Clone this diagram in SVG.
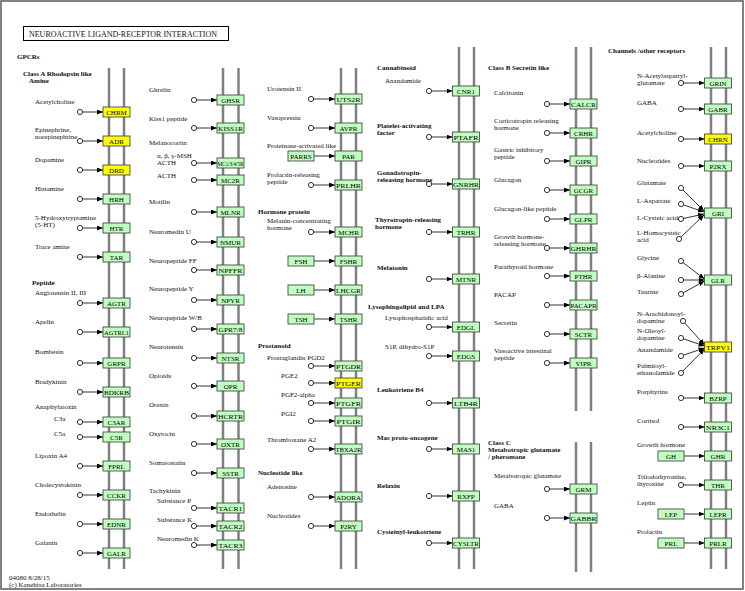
<svg xmlns="http://www.w3.org/2000/svg" width="745" height="591" viewBox="0 0 745 591">
<defs>
<marker id="a" viewBox="0 0 6 5" refX="6" refY="2.5" markerWidth="6" markerHeight="5" markerUnits="userSpaceOnUse" orient="auto"><path d="M0,0 L6,2.5 L0,5 z" fill="#000"/></marker>
</defs>
<style>
text{font-family:"Liberation Serif","DejaVu Serif",serif;font-size:7px;fill:#111}
.b{font-weight:bold}
.m{stroke:#808080;stroke-width:2.5}
.g rect{fill:#bfffbf;stroke:#4a4a4a;stroke-width:0.9}
.y rect{fill:#ffff00;stroke:#4a4a4a;stroke-width:0.9}
.g text,.y text{text-anchor:middle;fill:#000}
.c circle{fill:#fff;stroke:#000;stroke-width:0.8}
#edges line{stroke:#000;stroke-width:0.8;marker-end:url(#a)}
</style>
<rect x="1" y="1" width="742" height="588" fill="#fff" stroke="#5a5a5a" stroke-width="1.5"/>
<g id="title"><rect x="23.5" y="26.5" width="205" height="14" fill="#fff" stroke="#000" stroke-width="1"/>
<text x="29" y="37" style="font-size:9px" textLength="188" lengthAdjust="spacingAndGlyphs">NEUROACTIVE LIGAND-RECEPTOR INTERACTION</text></g>
<g id="membranes">
<line class="m" x1="109" y1="68" x2="109" y2="569"/><line class="m" x1="124" y1="68" x2="124" y2="569"/>
<line class="m" x1="223" y1="68" x2="223" y2="569"/><line class="m" x1="238.5" y1="68" x2="238.5" y2="569"/>
<line class="m" x1="341" y1="68" x2="341" y2="569"/><line class="m" x1="356" y1="68" x2="356" y2="569"/>
<line class="m" x1="459" y1="47" x2="459" y2="569"/><line class="m" x1="474" y1="47" x2="474" y2="569"/>
<line class="m" x1="576" y1="47" x2="576" y2="411"/><line class="m" x1="591" y1="47" x2="591" y2="411"/>
<line class="m" x1="576" y1="442" x2="576" y2="572"/><line class="m" x1="591" y1="442" x2="591" y2="572"/>
<line class="m" x1="711" y1="47" x2="711" y2="569"/><line class="m" x1="726" y1="47" x2="726" y2="569"/>
</g>
<g id="edges">
<line x1="80" y1="112" x2="103" y2="112"/><line x1="80" y1="141" x2="103" y2="141"/><line x1="80" y1="170" x2="103" y2="170"/><line x1="80" y1="199" x2="103" y2="199"/><line x1="80" y1="228" x2="103" y2="228"/><line x1="80" y1="257" x2="103" y2="257"/><line x1="80" y1="303" x2="103" y2="303"/><line x1="80" y1="332" x2="103" y2="332"/><line x1="80" y1="363" x2="103" y2="363"/><line x1="80" y1="392" x2="103" y2="392"/><line x1="80" y1="422" x2="103" y2="422"/><line x1="80" y1="437" x2="103" y2="437"/><line x1="80" y1="466" x2="103" y2="466"/><line x1="80" y1="495" x2="103" y2="495"/><line x1="80" y1="524" x2="103" y2="524"/><line x1="80" y1="553" x2="103" y2="553"/>
<line x1="194" y1="100" x2="217" y2="100"/><line x1="194" y1="128" x2="217" y2="128"/><line x1="194" y1="163" x2="217" y2="163"/><line x1="194" y1="180" x2="217" y2="180"/><line x1="194" y1="212" x2="217" y2="212"/><line x1="194" y1="242" x2="217" y2="242"/><line x1="194" y1="270" x2="217" y2="270"/><line x1="194" y1="300" x2="217" y2="300"/><line x1="194" y1="329" x2="217" y2="329"/><line x1="194" y1="358" x2="217" y2="358"/><line x1="194" y1="386" x2="217" y2="386"/><line x1="194" y1="416" x2="217" y2="416"/><line x1="194" y1="444" x2="217" y2="444"/><line x1="194" y1="473" x2="217" y2="473"/><line x1="194" y1="508" x2="217" y2="508"/><line x1="194" y1="526" x2="217" y2="526"/><line x1="194" y1="545" x2="217" y2="545"/>
<line x1="311" y1="99" x2="335" y2="99"/><line x1="311" y1="128" x2="335" y2="128"/><line x1="314" y1="156" x2="335" y2="156"/><line x1="311" y1="185" x2="335" y2="185"/><line x1="311" y1="232" x2="335" y2="232"/><line x1="314" y1="261" x2="335" y2="261"/><line x1="314" y1="290" x2="335" y2="290"/><line x1="314" y1="319" x2="335" y2="319"/><line x1="311" y1="366" x2="335" y2="366"/><line x1="311" y1="383" x2="335" y2="383"/><line x1="311" y1="403" x2="335" y2="403"/><line x1="311" y1="421" x2="335" y2="421"/><line x1="311" y1="449" x2="335" y2="449"/><line x1="311" y1="497" x2="335" y2="497"/><line x1="311" y1="526" x2="335" y2="526"/>
<line x1="429" y1="91" x2="452.5" y2="91"/><line x1="429" y1="137" x2="452.5" y2="137"/><line x1="429" y1="184" x2="452.5" y2="184"/><line x1="429" y1="232" x2="452.5" y2="232"/><line x1="429" y1="279" x2="452.5" y2="279"/><line x1="429" y1="327" x2="452.5" y2="327"/><line x1="429" y1="356" x2="452.5" y2="356"/><line x1="429" y1="403" x2="452.5" y2="403"/><line x1="429" y1="449" x2="452.5" y2="449"/><line x1="429" y1="496" x2="452.5" y2="496"/><line x1="429" y1="543" x2="452.5" y2="543"/>
<line x1="547" y1="104" x2="570" y2="104"/><line x1="547" y1="133" x2="570" y2="133"/><line x1="547" y1="161" x2="570" y2="161"/><line x1="547" y1="190" x2="570" y2="190"/><line x1="547" y1="219" x2="570" y2="219"/><line x1="547" y1="248" x2="570" y2="248"/><line x1="547" y1="276" x2="570" y2="276"/><line x1="547" y1="305" x2="570" y2="305"/><line x1="547" y1="334" x2="570" y2="334"/><line x1="547" y1="363" x2="570" y2="363"/><line x1="547" y1="489" x2="570" y2="489"/><line x1="547" y1="518" x2="570" y2="518"/>
<line x1="681" y1="83" x2="704.5" y2="83"/><line x1="681" y1="109" x2="704.5" y2="109"/><line x1="681" y1="139" x2="704.5" y2="139"/><line x1="681" y1="166" x2="704.5" y2="166"/>
<line x1="681" y1="188" x2="704" y2="211"/><line x1="681" y1="204" x2="704" y2="212"/><line x1="681" y1="219" x2="704" y2="214"/><line x1="679" y1="239" x2="704" y2="215"/>
<line x1="681" y1="261" x2="704.5" y2="279"/><line x1="681" y1="280" x2="704.5" y2="280"/><line x1="681" y1="294" x2="704.5" y2="281"/>
<line x1="683" y1="321" x2="704.5" y2="345"/><line x1="681" y1="338" x2="704.5" y2="346"/><line x1="681" y1="356" x2="704.5" y2="348"/><line x1="681" y1="373" x2="704.5" y2="349"/>
<line x1="681" y1="398" x2="704.5" y2="398"/><line x1="681" y1="427" x2="704.5" y2="427"/><line x1="684" y1="456" x2="704.5" y2="456"/><line x1="681" y1="485" x2="704.5" y2="485"/><line x1="684" y1="514" x2="704.5" y2="514"/><line x1="684" y1="543" x2="704.5" y2="543"/>
</g>
<g id="compounds" class="c">
<g id="c1"><circle cx="80" cy="112" r="2.6"/><circle cx="80" cy="141" r="2.6"/><circle cx="80" cy="170" r="2.6"/><circle cx="80" cy="199" r="2.6"/><circle cx="80" cy="228" r="2.6"/><circle cx="80" cy="257" r="2.6"/><circle cx="80" cy="303" r="2.6"/><circle cx="80" cy="332" r="2.6"/><circle cx="80" cy="363" r="2.6"/><circle cx="80" cy="392" r="2.6"/><circle cx="80" cy="422" r="2.6"/><circle cx="80" cy="437" r="2.6"/><circle cx="80" cy="466" r="2.6"/><circle cx="80" cy="495" r="2.6"/><circle cx="80" cy="524" r="2.6"/><circle cx="80" cy="553" r="2.6"/></g>
<g id="c2"><circle cx="194" cy="100" r="2.6"/><circle cx="194" cy="128" r="2.6"/><circle cx="194" cy="163" r="2.6"/><circle cx="194" cy="180" r="2.6"/><circle cx="194" cy="212" r="2.6"/><circle cx="194" cy="242" r="2.6"/><circle cx="194" cy="270" r="2.6"/><circle cx="194" cy="300" r="2.6"/><circle cx="194" cy="329" r="2.6"/><circle cx="194" cy="358" r="2.6"/><circle cx="194" cy="386" r="2.6"/><circle cx="194" cy="416" r="2.6"/><circle cx="194" cy="444" r="2.6"/><circle cx="194" cy="473" r="2.6"/><circle cx="194" cy="508" r="2.6"/><circle cx="194" cy="526" r="2.6"/><circle cx="194" cy="545" r="2.6"/></g>
<g id="c3"><circle cx="311" cy="99" r="2.6"/><circle cx="311" cy="128" r="2.6"/><circle cx="311" cy="185" r="2.6"/><circle cx="311" cy="232" r="2.6"/><circle cx="311" cy="366" r="2.6"/><circle cx="311" cy="383" r="2.6"/><circle cx="311" cy="403" r="2.6"/><circle cx="311" cy="421" r="2.6"/><circle cx="311" cy="449" r="2.6"/><circle cx="311" cy="497" r="2.6"/><circle cx="311" cy="526" r="2.6"/></g>
<g id="c4"><circle cx="429" cy="91" r="2.6"/><circle cx="429" cy="137" r="2.6"/><circle cx="429" cy="184" r="2.6"/><circle cx="429" cy="232" r="2.6"/><circle cx="429" cy="279" r="2.6"/><circle cx="429" cy="327" r="2.6"/><circle cx="429" cy="356" r="2.6"/><circle cx="429" cy="403" r="2.6"/><circle cx="429" cy="449" r="2.6"/><circle cx="429" cy="496" r="2.6"/><circle cx="429" cy="543" r="2.6"/></g>
<g id="c5"><circle cx="547" cy="104" r="2.6"/><circle cx="547" cy="133" r="2.6"/><circle cx="547" cy="161" r="2.6"/><circle cx="547" cy="190" r="2.6"/><circle cx="547" cy="219" r="2.6"/><circle cx="547" cy="248" r="2.6"/><circle cx="547" cy="276" r="2.6"/><circle cx="547" cy="305" r="2.6"/><circle cx="547" cy="334" r="2.6"/><circle cx="547" cy="363" r="2.6"/><circle cx="547" cy="489" r="2.6"/><circle cx="547" cy="518" r="2.6"/></g>
<g id="c6"><circle cx="681" cy="83" r="2.6"/><circle cx="681" cy="109" r="2.6"/><circle cx="681" cy="139" r="2.6"/><circle cx="681" cy="166" r="2.6"/><circle cx="681" cy="188" r="2.6"/><circle cx="681" cy="204" r="2.6"/><circle cx="681" cy="219" r="2.6"/><circle cx="679" cy="239" r="2.6"/><circle cx="681" cy="261" r="2.6"/><circle cx="681" cy="280" r="2.6"/><circle cx="681" cy="294" r="2.6"/><circle cx="683" cy="321" r="2.6"/><circle cx="681" cy="338" r="2.6"/><circle cx="681" cy="356" r="2.6"/><circle cx="681" cy="373" r="2.6"/><circle cx="681" cy="398" r="2.6"/><circle cx="681" cy="427" r="2.6"/><circle cx="681" cy="485" r="2.6"/></g>
</g>
<g id="receptors">
<g id="CHRM" class="y"><rect x="103" y="107" width="27" height="10"/><text x="116.5" y="114.5">CHRM</text></g>
<g id="ADR" class="y"><rect x="103" y="136" width="27" height="10"/><text x="116.5" y="143.5">ADR</text></g>
<g id="DRD" class="y"><rect x="103" y="165" width="27" height="10"/><text x="116.5" y="172.5">DRD</text></g>
<g id="HRH" class="g"><rect x="103" y="194" width="27" height="10"/><text x="116.5" y="201.5">HRH</text></g>
<g id="HTR" class="g"><rect x="103" y="223" width="27" height="10"/><text x="116.5" y="230.5">HTR</text></g>
<g id="TAR" class="g"><rect x="103" y="252" width="27" height="10"/><text x="116.5" y="259.5">TAR</text></g>
<g id="AGTR" class="g"><rect x="103" y="298" width="27" height="10"/><text x="116.5" y="305.5">AGTR</text></g>
<g id="AGTRL1" class="g"><rect x="103" y="327" width="27" height="10"/><text x="116.5" y="334.5" textLength="25" lengthAdjust="spacingAndGlyphs">AGTRL1</text></g>
<g id="GRPR" class="g"><rect x="103" y="358" width="27" height="10"/><text x="116.5" y="365.5">GRPR</text></g>
<g id="BDKRB" class="g"><rect x="103" y="387" width="27" height="10"/><text x="116.5" y="394.5" textLength="25" lengthAdjust="spacingAndGlyphs">BDKRB</text></g>
<g id="C3AR" class="g"><rect x="103" y="417" width="27" height="10"/><text x="116.5" y="424.5">C3AR</text></g>
<g id="C5R" class="g"><rect x="103" y="432" width="27" height="10"/><text x="116.5" y="439.5">C5R</text></g>
<g id="FPRL" class="g"><rect x="103" y="461" width="27" height="10"/><text x="116.5" y="468.5">FPRL</text></g>
<g id="CCKR" class="g"><rect x="103" y="490" width="27" height="10"/><text x="116.5" y="497.5">CCKR</text></g>
<g id="EDNR" class="g"><rect x="103" y="519" width="27" height="10"/><text x="116.5" y="526.5">EDNR</text></g>
<g id="GALR" class="g"><rect x="103" y="548" width="27" height="10"/><text x="116.5" y="555.5">GALR</text></g>

<g id="GHSR" class="g"><rect x="217" y="95" width="27" height="10"/><text x="230.5" y="102.5">GHSR</text></g>
<g id="KISS1R" class="g"><rect x="217" y="123" width="27" height="10"/><text x="230.5" y="130.5" textLength="25" lengthAdjust="spacingAndGlyphs">KISS1R</text></g>
<g id="MC1345R" class="g"><rect x="217" y="158" width="27" height="10"/><text x="230.5" y="165.5" textLength="26" lengthAdjust="spacingAndGlyphs">MC1/3/4/5R</text></g>
<g id="MC2R" class="g"><rect x="217" y="175" width="27" height="10"/><text x="230.5" y="182.5">MC2R</text></g>
<g id="MLNR" class="g"><rect x="217" y="207" width="27" height="10"/><text x="230.5" y="214.5">MLNR</text></g>
<g id="NMUR" class="g"><rect x="217" y="237" width="27" height="10"/><text x="230.5" y="244.5">NMUR</text></g>
<g id="NPFFR" class="g"><rect x="217" y="265" width="27" height="10"/><text x="230.5" y="272.5" textLength="24" lengthAdjust="spacingAndGlyphs">NPFFR</text></g>
<g id="NPYR" class="g"><rect x="217" y="295" width="27" height="10"/><text x="230.5" y="302.5">NPYR</text></g>
<g id="GPR7_8" class="g"><rect x="217" y="324" width="27" height="10"/><text x="230.5" y="331.5" textLength="24" lengthAdjust="spacingAndGlyphs">GPR7/8</text></g>
<g id="NTSR" class="g"><rect x="217" y="353" width="27" height="10"/><text x="230.5" y="360.5">NTSR</text></g>
<g id="OPR" class="g"><rect x="217" y="381" width="27" height="10"/><text x="230.5" y="388.5">OPR</text></g>
<g id="HCRTR" class="g"><rect x="217" y="411" width="27" height="10"/><text x="230.5" y="418.5" textLength="25" lengthAdjust="spacingAndGlyphs">HCRTR</text></g>
<g id="OXTR" class="g"><rect x="217" y="439" width="27" height="10"/><text x="230.5" y="446.5">OXTR</text></g>
<g id="SSTR" class="g"><rect x="217" y="468" width="27" height="10"/><text x="230.5" y="475.5">SSTR</text></g>
<g id="TACR1" class="g"><rect x="217" y="503" width="27" height="10"/><text x="230.5" y="510.5" textLength="24" lengthAdjust="spacingAndGlyphs">TACR1</text></g>
<g id="TACR2" class="g"><rect x="217" y="521" width="27" height="10"/><text x="230.5" y="528.5" textLength="24" lengthAdjust="spacingAndGlyphs">TACR2</text></g>
<g id="TACR3" class="g"><rect x="217" y="540" width="27" height="10"/><text x="230.5" y="547.5" textLength="24" lengthAdjust="spacingAndGlyphs">TACR3</text></g>

<g id="UTS2R" class="g"><rect x="335" y="94" width="27" height="10"/><text x="348.5" y="101.5" textLength="24" lengthAdjust="spacingAndGlyphs">UTS2R</text></g>
<g id="AVPR" class="g"><rect x="335" y="123" width="27" height="10"/><text x="348.5" y="130.5">AVPR</text></g>
<g id="PAR" class="g"><rect x="335" y="151" width="27" height="10"/><text x="348.5" y="158.5">PAR</text></g>
<g id="PRLHR" class="g"><rect x="335" y="180" width="27" height="10"/><text x="348.5" y="187.5" textLength="25" lengthAdjust="spacingAndGlyphs">PRLHR</text></g>
<g id="MCHR" class="g"><rect x="335" y="227" width="27" height="10"/><text x="348.5" y="234.5">MCHR</text></g>
<g id="FSHR" class="g"><rect x="335" y="256" width="27" height="10"/><text x="348.5" y="263.5">FSHR</text></g>
<g id="LHCGR" class="g"><rect x="335" y="285" width="27" height="10"/><text x="348.5" y="292.5" textLength="25" lengthAdjust="spacingAndGlyphs">LHCGR</text></g>
<g id="TSHR" class="g"><rect x="335" y="314" width="27" height="10"/><text x="348.5" y="321.5">TSHR</text></g>
<g id="PTGDR" class="g"><rect x="335" y="361" width="27" height="10"/><text x="348.5" y="368.5" textLength="25" lengthAdjust="spacingAndGlyphs">PTGDR</text></g>
<g id="PTGER" class="y"><rect x="335" y="378" width="27" height="10"/><text x="348.5" y="385.5" textLength="25" lengthAdjust="spacingAndGlyphs">PTGER</text></g>
<g id="PTGFR" class="g"><rect x="335" y="398" width="27" height="10"/><text x="348.5" y="405.5" textLength="25" lengthAdjust="spacingAndGlyphs">PTGFR</text></g>
<g id="PTGIR" class="g"><rect x="335" y="416" width="27" height="10"/><text x="348.5" y="423.5" textLength="24" lengthAdjust="spacingAndGlyphs">PTGIR</text></g>
<g id="TBXA2R" class="g"><rect x="335" y="444" width="27" height="10"/><text x="348.5" y="451.5" textLength="26" lengthAdjust="spacingAndGlyphs">TBXA2R</text></g>
<g id="ADORA" class="g"><rect x="335" y="492" width="27" height="10"/><text x="348.5" y="499.5" textLength="25" lengthAdjust="spacingAndGlyphs">ADORA</text></g>
<g id="P2RY" class="g"><rect x="335" y="521" width="27" height="10"/><text x="348.5" y="528.5">P2RY</text></g>

<g id="CNR1" class="g"><rect x="452.5" y="86" width="27" height="10"/><text x="466" y="93.5">CNR1</text></g>
<g id="PTAFR" class="g"><rect x="452.5" y="132" width="27" height="10"/><text x="466" y="139.5" textLength="25" lengthAdjust="spacingAndGlyphs">PTAFR</text></g>
<g id="GNRHR" class="g"><rect x="452.5" y="179" width="27" height="10"/><text x="466" y="186.5" textLength="26" lengthAdjust="spacingAndGlyphs">GNRHR</text></g>
<g id="TRHR" class="g"><rect x="452.5" y="227" width="27" height="10"/><text x="466" y="234.5">TRHR</text></g>
<g id="MTNR" class="g"><rect x="452.5" y="274" width="27" height="10"/><text x="466" y="281.5">MTNR</text></g>
<g id="EDGL" class="g"><rect x="452.5" y="322" width="27" height="10"/><text x="466" y="329.5">EDGL</text></g>
<g id="EDGS" class="g"><rect x="452.5" y="351" width="27" height="10"/><text x="466" y="358.5">EDGS</text></g>
<g id="LTB4R" class="g"><rect x="452.5" y="398" width="27" height="10"/><text x="466" y="405.5" textLength="24" lengthAdjust="spacingAndGlyphs">LTB4R</text></g>
<g id="MAS1" class="g"><rect x="452.5" y="444" width="27" height="10"/><text x="466" y="451.5">MAS1</text></g>
<g id="RXFP" class="g"><rect x="452.5" y="491" width="27" height="10"/><text x="466" y="498.5">RXFP</text></g>
<g id="CYSLTR" class="g"><rect x="452.5" y="538" width="27" height="10"/><text x="466" y="545.5" textLength="26" lengthAdjust="spacingAndGlyphs">CYSLTR</text></g>

<g id="CALCR" class="g"><rect x="570" y="99" width="27" height="10"/><text x="583.5" y="106.5" textLength="25" lengthAdjust="spacingAndGlyphs">CALCR</text></g>
<g id="CRHR" class="g"><rect x="570" y="128" width="27" height="10"/><text x="583.5" y="135.5">CRHR</text></g>
<g id="GIPR" class="g"><rect x="570" y="156" width="27" height="10"/><text x="583.5" y="163.5">GIPR</text></g>
<g id="GCGR" class="g"><rect x="570" y="185" width="27" height="10"/><text x="583.5" y="192.5">GCGR</text></g>
<g id="GLPR" class="g"><rect x="570" y="214" width="27" height="10"/><text x="583.5" y="221.5">GLPR</text></g>
<g id="GHRHR" class="g"><rect x="570" y="243" width="27" height="10"/><text x="583.5" y="250.5" textLength="26" lengthAdjust="spacingAndGlyphs">GHRHR</text></g>
<g id="PTHR" class="g"><rect x="570" y="271" width="27" height="10"/><text x="583.5" y="278.5">PTHR</text></g>
<g id="PACAPR" class="g"><rect x="570" y="300" width="27" height="10"/><text x="583.5" y="307.5" textLength="26" lengthAdjust="spacingAndGlyphs">PACAPR</text></g>
<g id="SCTR" class="g"><rect x="570" y="329" width="27" height="10"/><text x="583.5" y="336.5">SCTR</text></g>
<g id="VIPR" class="g"><rect x="570" y="358" width="27" height="10"/><text x="583.5" y="365.5">VIPR</text></g>
<g id="GRM" class="g"><rect x="570" y="484" width="27" height="10"/><text x="583.5" y="491.5">GRM</text></g>
<g id="GABBR" class="g"><rect x="570" y="513" width="27" height="10"/><text x="583.5" y="520.5" textLength="26" lengthAdjust="spacingAndGlyphs">GABBR</text></g>

<g id="GRIN" class="g"><rect x="704.5" y="78" width="27" height="10"/><text x="718" y="85.5">GRIN</text></g>
<g id="GABR" class="g"><rect x="704.5" y="104" width="27" height="10"/><text x="718" y="111.5">GABR</text></g>
<g id="CHRN" class="y"><rect x="704.5" y="134" width="27" height="10"/><text x="718" y="141.5">CHRN</text></g>
<g id="P2RX" class="g"><rect x="704.5" y="161" width="27" height="10"/><text x="718" y="168.5">P2RX</text></g>
<g id="GRI" class="g"><rect x="704.5" y="208" width="27" height="10"/><text x="718" y="215.5">GRI</text></g>
<g id="GLR" class="g"><rect x="704.5" y="275" width="27" height="10"/><text x="718" y="282.5">GLR</text></g>
<g id="TRPV1" class="y"><rect x="704.5" y="342" width="27" height="10"/><text x="718" y="349.5" textLength="24" lengthAdjust="spacingAndGlyphs">TRPV1</text></g>
<g id="BZRP" class="g"><rect x="704.5" y="393" width="27" height="10"/><text x="718" y="400.5">BZRP</text></g>
<g id="NR3C1" class="g"><rect x="704.5" y="422" width="27" height="10"/><text x="718" y="429.5" textLength="24" lengthAdjust="spacingAndGlyphs">NR3C1</text></g>
<g id="GHR" class="g"><rect x="704.5" y="451" width="27" height="10"/><text x="718" y="458.5">GHR</text></g>
<g id="THR" class="g"><rect x="704.5" y="480" width="27" height="10"/><text x="718" y="487.5">THR</text></g>
<g id="LEPR" class="g"><rect x="704.5" y="509" width="27" height="10"/><text x="718" y="516.5">LEPR</text></g>
<g id="PRLR" class="g"><rect x="704.5" y="538" width="27" height="10"/><text x="718" y="545.5">PRLR</text></g>
</g>
<g id="ligands">
<g id="PRSS" class="g"><rect x="288" y="151" width="26" height="10"/><text x="301" y="158.5">PARRS</text></g>
<g id="FSH" class="g"><rect x="288" y="256" width="26" height="10"/><text x="301" y="263.5">FSH</text></g>
<g id="LH" class="g"><rect x="288" y="285" width="26" height="10"/><text x="301" y="292.5">LH</text></g>
<g id="TSH" class="g"><rect x="288" y="314" width="26" height="10"/><text x="301" y="321.5">TSH</text></g>
<g id="GH" class="g"><rect x="658" y="451" width="26" height="10"/><text x="671" y="458.5">GH</text></g>
<g id="LEP" class="g"><rect x="658" y="509" width="26" height="10"/><text x="671" y="516.5">LEP</text></g>
<g id="PRL" class="g"><rect x="658" y="538" width="26" height="10"/><text x="671" y="545.5">PRL</text></g>
</g>
<g id="labels">
<text class="b" x="17" y="58.5">GPCRs</text>
<text class="b" x="23" y="75.5">Class A Rhodopsin like</text>
<text class="b" x="29" y="82.5">Amine</text>
<text x="35" y="104">Acetylcholine</text>
<text x="35" y="132">Epinephrine,</text><text x="35" y="139">norepinephrine</text>
<text x="35" y="161.5">Dopamine</text>
<text x="35" y="190.5">Histamine</text>
<text x="35" y="219.5">5-Hydroxytryptamine</text><text x="35" y="226.5">(5-HT)</text>
<text x="35" y="248.5">Trace amine</text>
<text class="b" x="32" y="285">Peptide</text>
<text x="35" y="295">Angiotensin II, III</text>
<text x="35" y="324">Apelin</text>
<text x="35" y="354">Bombesin</text>
<text x="35" y="383.5">Bradykinin</text>
<text x="35" y="408.5">Anaphylatoxin</text>
<text x="54" y="421">C3a</text>
<text x="54" y="436">C5a</text>
<text x="35" y="458">Lipoxin A4</text>
<text x="35" y="486.5">Cholecystokinin</text>
<text x="35" y="516">Endothelin</text>
<text x="35" y="544.5">Galanin</text>

<text x="149" y="92">Ghrelin</text>
<text x="149" y="121">Kiss1 peptide</text>
<text x="149" y="145">Melanocortin</text>
<text x="157" y="157.5">α, β, γ-MSH</text><text x="157" y="165">ACTH</text>
<text x="157" y="178">ACTH</text>
<text x="149" y="204">Motilin</text>
<text x="149" y="233.5">Neuromedin U</text>
<text x="149" y="262.5">Neuropeptide FF</text>
<text x="149" y="291">Neuropeptide Y</text>
<text x="149" y="320">Neuropeptide W/B</text>
<text x="149" y="349">Neurotensin</text>
<text x="149" y="378">Opioids</text>
<text x="149" y="407">Orexin</text>
<text x="149" y="436">Oxytocin</text>
<text x="149" y="465">Somatostatin</text>
<text x="149" y="492.5">Tachykinin</text>
<text x="157" y="503">Substance P</text>
<text x="157" y="522">Substance K</text>
<text x="157" y="541">Neuromedin K</text>

<text x="267" y="91">Urotensin II</text>
<text x="267" y="120">Vasopressin</text>
<text x="267" y="148">Proteinase-activated like</text>
<text x="267" y="176.5">Prolactin-releasing</text><text x="267" y="183.5">peptide</text>
<text class="b" x="258" y="214">Hormone protein</text>
<text x="267" y="223">Melanin-concentrating</text><text x="267" y="230">hormone</text>
<text class="b" x="258" y="347.5">Prostanoid</text>
<text x="267" y="360">Prostaglandin PGD2</text>
<text x="281" y="378">PGE2</text>
<text x="281" y="396.5">PGF2-alpha</text>
<text x="281" y="416">PGI2</text>
<text x="267" y="441.5">Thromboxane A2</text>
<text class="b" x="258" y="475">Nucleotide like</text>
<text x="267" y="489">Adenosine</text>
<text x="267" y="517.5">Nucleotides</text>

<text class="b" x="377" y="70">Cannabinoid</text>
<text x="385" y="82.5">Anandamide</text>
<text class="b" x="377" y="128">Platelet-activating</text><text class="b" x="377" y="135">factor</text>
<text class="b" x="377" y="174.5">Gonadotropin-</text><text class="b" x="377" y="181.5">releasing hormone</text>
<text class="b" x="375" y="222">Thyrotropin-releasing</text><text class="b" x="375" y="229">hormone</text>
<text class="b" x="377" y="270">Melatonin</text>
<text class="b" x="368" y="309">Lysophingolipid and LPA</text>
<text x="385" y="320">Lysophosphatidic acid</text>
<text x="385" y="349">S1P, dihydro-S1P</text>
<text class="b" x="377" y="391.5">Leukotriene B4</text>
<text class="b" x="377" y="440">Mas proto-oncogene</text>
<text class="b" x="377" y="487.5">Relaxin</text>
<text class="b" x="377" y="533.5">Cysteinyl-leukotriene</text>

<text class="b" x="488" y="70">Class B Secretin like</text>
<text x="494" y="94.5">Calcitonin</text>
<text x="494" y="122.5">Corticotropin releasing</text><text x="494" y="129.5">hormone</text>
<text x="494" y="151.5">Gastric inhibitory</text><text x="494" y="158.5">peptide</text>
<text x="494" y="181.5">Glucagon</text>
<text x="494" y="211">Glucagon-like peptide</text>
<text x="494" y="238.5">Growth hormone-</text><text x="494" y="245.5">releasing hormone</text>
<text x="494" y="268.5">Parathyroid hormone</text>
<text x="494" y="296.5">PACAP</text>
<text x="494" y="325">Secretin</text>
<text x="494" y="352.5">Vasoactive intestinal</text><text x="494" y="359.5">peptide</text>
<text class="b" x="488" y="444.5">Class C</text>
<text class="b" x="488" y="451.5">Metabotropic glutamate</text>
<text class="b" x="488" y="458.5">/ pheromone</text>
<text x="494" y="478">Metabotropic glutamate</text>
<text x="494" y="508">GABA</text>

<text class="b" x="608" y="53">Channels /other receptors</text>
<text x="637" y="77.5">N-Acetylaspartyl-</text><text x="637" y="84.5">glutamate</text>
<text x="637" y="105">GABA</text>
<text x="637" y="135">Acetylcholine</text>
<text x="637" y="163">Nucleotides</text>
<text x="637" y="185">Glutamate</text>
<text x="637" y="202.5">L-Aspartate</text>
<text x="637" y="220">L-Cysteic acid</text>
<text x="637" y="235">L-Homocysteic</text><text x="637" y="242">acid</text>
<text x="637" y="260">Glycine</text>
<text x="637" y="278">β-Alanine</text>
<text x="637" y="294">Taurine</text>
<text x="637" y="315.5">N-Arachidonoyl-</text><text x="637" y="322.5">dopamine</text>
<text x="637" y="333">N-Oleoyl-</text><text x="637" y="340">dopamine</text>
<text x="637" y="352">Anandamide</text>
<text x="637" y="367.5">Palmitoyl-</text><text x="637" y="374.5">ethanolamide</text>
<text x="637" y="393.5">Porphyrins</text>
<text x="637" y="423">Cortisol</text>
<text x="637" y="447">Growth hormone</text>
<text x="637" y="479">Triiodothyronine,</text><text x="637" y="486">thyroxine</text>
<text x="637" y="505">Leptin</text>
<text x="637" y="533.5">Prolactin</text>

<text x="9" y="580">04080 8/28/15</text>
<text x="9" y="587">(c) Kanehisa Laboratories</text>
</g>
</svg>
